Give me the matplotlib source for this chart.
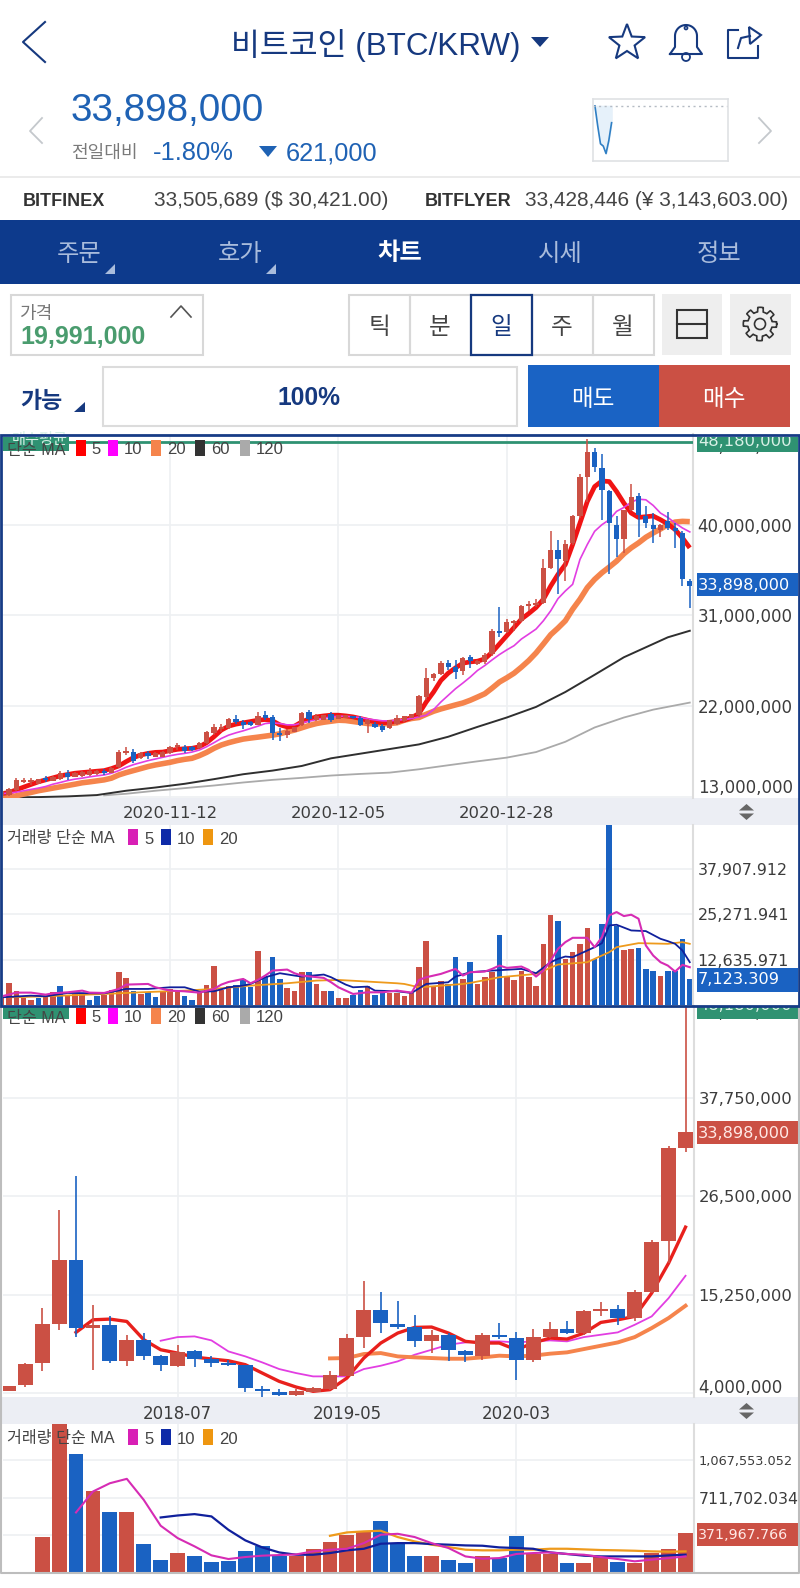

import numpy as np
import matplotlib
matplotlib.use('Agg')
import matplotlib.pyplot as plt
from matplotlib.patches import Rectangle, Polygon, Circle

plt.rcParams['font.family'] = ['Liberation Sans', 'Noto Sans CJK KR', 'DejaVu Sans']

W, H = 800, 1588
RED = '#cb5044'
BLUE = '#1a62c2'
NAVY = '#0d3a8c'
GRID = '#eef0f2'

###### daily chart, million KRW
d_open = [13.09,13.19,13.68,14.47,14.41,14.28,14.84,14.6,14.74,15.33,15.0,15.07,15.13,15.26,15.59,15.4,15.99,17.37,17.47,16.81,17.37,16.97,16.97,17.3,17.89,17.96,17.96,17.8,18.29,19.34,19.67,19.77,20.76,20.43,20.43,20.13,21.09,20.92,19.34,19.11,19.44,20.1,21.41,20.59,20.66,21.18,20.76,20.86,20.99,20.86,20.2,20.26,20.0,19.77,20.26,20.53,20.86,21.09,22.89,24.8,25.2,26.25,25.92,25.46,26.84,26.18,26.35,27.17,29.47,29.38,30.2,30.46,31.94,32.04,32.27,35.72,37.53,36.38,38.19,40.82,44.77,47.17,45.66,43.36,40.0,38.62,41.48,42.8,40.82,40.0,39.51,40.33,39.67,39.18,34.41]
d_close = [13.52,13.75,14.67,14.67,14.67,14.74,14.67,15.0,15.33,15.0,15.4,15.49,15.59,15.59,15.33,15.82,17.47,17.57,16.58,17.37,17.04,17.37,17.47,17.96,18.13,17.57,17.63,18.36,19.41,19.87,19.93,20.72,20.43,20.1,20.13,20.99,20.86,19.34,19.08,19.51,19.87,21.32,20.76,20.99,21.09,20.59,21.09,21.09,20.79,20.1,20.59,19.93,19.61,20.59,20.86,20.99,21.18,22.96,24.8,25.2,26.25,25.92,25.36,26.74,26.45,26.51,27.11,29.47,29.21,30.36,30.46,31.94,32.17,32.27,35.66,37.53,36.55,38.09,40.82,44.77,47.24,45.76,43.45,40.16,38.62,41.48,42.7,40.99,40.16,39.61,39.93,39.67,39.34,34.57,33.9]
d_high = [13.6,13.85,14.9,14.84,14.84,14.8,15.07,15.05,15.59,15.66,15.45,15.55,15.82,15.65,15.72,15.9,17.63,17.89,17.7,17.45,17.57,17.45,17.55,18.05,18.29,18.13,18.05,18.45,19.5,20.26,20.2,20.8,21.09,20.66,20.5,21.41,21.48,21.09,19.77,19.67,19.95,21.38,21.64,21.25,21.15,21.41,21.15,21.15,21.05,20.99,20.72,20.43,20.2,20.65,21.09,21.05,21.25,23.06,25.79,25.26,26.45,26.58,26.58,26.84,27.11,26.6,27.24,29.64,31.84,30.63,30.53,32.04,32.43,32.6,36.55,39.41,38.52,38.52,40.99,45.0,48.55,47.63,46.97,43.45,40.82,41.5,44.01,43.13,41.81,41.15,40.07,41.22,40.16,39.34,34.57]
d_low = [13.0,13.09,13.52,14.34,14.18,14.21,14.41,14.55,14.7,14.67,14.95,15.0,15.1,15.2,15.13,15.35,15.82,17.14,16.38,16.75,16.71,16.9,16.9,17.25,17.63,17.37,17.55,17.75,18.25,19.11,19.44,19.7,20.2,19.67,20.05,20.1,20.59,18.63,18.55,18.78,19.4,20.05,20.33,20.5,20.6,20.43,20.7,20.8,20.7,20.0,19.28,19.77,19.44,19.7,20.1,20.45,20.8,20.92,22.63,24.47,25.03,25.53,24.7,25.03,25.79,26.1,26.18,27.0,28.88,29.21,29.47,30.3,31.45,31.78,32.17,35.56,33.09,34.41,38.03,40.66,42.3,45.2,40.49,35.07,36.78,37.2,41.32,38.75,39.67,38.19,38.75,39.51,37.7,33.91,31.71]

d_ma5 = [13.3,13.42,13.68,13.95,14.21,14.47,14.67,14.87,15.07,15.2,15.33,15.4,15.46,15.53,15.59,15.79,16.05,16.48,16.88,17.14,17.3,17.4,17.43,17.57,17.7,17.76,17.8,17.96,18.36,18.95,19.61,20.0,20.2,20.33,20.46,20.59,20.66,20.53,20.13,19.93,20.0,20.43,20.72,20.92,21.02,21.09,21.09,21.02,20.92,20.76,20.59,20.43,20.33,20.39,20.46,20.59,20.86,21.25,22.4,23.39,24.54,25.26,25.79,26.25,26.38,26.45,26.68,27.34,28.16,28.98,29.8,30.63,31.18,31.78,32.6,33.91,35.07,36.05,38.03,40.16,42.3,43.78,44.34,44.28,43.29,42.14,41.15,40.72,40.79,40.86,40.49,40.07,39.51,38.68,37.7]
d_ma10 = [13.3,13.36,13.45,13.59,13.72,13.85,14.01,14.24,14.41,14.6,14.74,14.84,14.97,15.07,15.16,15.33,15.59,15.92,16.18,16.38,16.58,16.74,16.91,17.07,17.2,17.3,17.43,17.63,17.96,18.36,18.78,19.11,19.34,19.54,19.77,20.0,20.26,20.33,20.26,20.13,20.13,20.33,20.49,20.66,20.79,20.92,20.99,20.99,20.92,20.86,20.72,20.62,20.53,20.53,20.59,20.66,20.76,20.92,21.09,21.64,22.4,23.06,23.72,24.28,24.87,25.53,26.02,26.58,27.11,27.57,27.99,28.65,29.14,29.64,30.46,31.45,32.66,33.42,34.08,36.55,38.03,39.34,40.0,40.49,41.32,41.71,42.24,42.53,42.47,41.91,41.15,40.72,40.16,39.67,39.28]
d_ma20 = [12.9,12.93,13.09,13.26,13.42,13.59,13.72,13.85,13.98,14.11,14.24,14.38,14.47,14.57,14.67,14.84,15.16,15.39,15.59,15.79,15.99,16.15,16.28,16.41,16.58,16.71,16.81,17.07,17.4,17.8,18.13,18.36,18.55,18.72,18.82,18.91,19.01,19.11,19.24,19.44,19.61,19.84,20.07,20.26,20.39,20.49,20.59,20.56,20.46,20.36,20.26,20.23,20.23,20.26,20.33,20.59,20.76,20.86,21.18,21.48,21.71,21.91,22.11,22.3,22.57,22.89,23.22,23.78,24.38,24.8,25.26,25.86,26.51,27.27,28.16,29.08,29.74,30.46,31.61,32.6,33.75,34.57,35.23,35.79,36.38,37.11,37.7,38.19,38.75,39.18,39.57,40.0,40.26,40.33,40.3]
d_ma60_x = [1,5,9,13,17,21,25,29,33,37,41,45,49,53,57,61,65,69,73,77,81,85,89,91,94]
d_ma60 = [12.93,12.96,13.03,13.16,13.59,13.91,14.28,14.74,15.23,15.59,16.05,16.81,17.27,17.73,18.19,18.95,19.93,20.86,21.91,23.39,25.1,26.84,28.16,28.82,29.47]
d_ma120_x = [14,17,21,25,29,33,37,41,45,49,53,57,61,65,69,73,77,81,85,89,94]
d_ma120 = [13.13,13.29,13.59,13.85,14.11,14.41,14.67,14.87,15.1,15.26,15.39,15.72,16.12,16.51,16.88,17.43,18.45,19.87,20.86,21.64,22.34]

###### daily volume, thousands
d_vol = [2.61,6.06,3.82,1.96,1.49,1.87,2.14,3.54,5.41,2.89,3.08,3.08,1.4,2.42,2.89,4.2,9.14,7.46,4.01,3.08,3.73,2.33,3.82,4.48,4.01,2.42,1.49,3.26,5.69,11.0,4.2,5.41,5.69,7.27,5.13,15.01,7.74,13.52,7.18,4.76,3.82,9.33,9.33,5.87,4.01,3.82,1.87,1.87,2.89,4.2,5.22,2.8,3.73,3.26,3.26,
         2.61,3.26,10.54,17.72,5.22,6.81,5.87,13.33,7.27,12.12,5.87,7.74,9.14,19.58,7.74,6.99,9.6,7.74,5.41,17.06,24.99,23.31,12.87,14.92,16.88,21.54,12.87,22.66,60.0,21.91,15.39,15.67,15.95,10.07,9.42,8.02,9.6,9.6,18.46,7.12]
d_vol_side = 'rrrrrbrrbrrrbbrrrrbrbbrrrbbrrrrrbbbrbbbrrrbrrbrrbbrbbrr' + 'rrrrrrbbrbrrrbrrrrrrrbrrrrbbbbrrbbbrbbbb'
d_vma5_x = [0,2,4,6,7,9,11,12,14,16,17,20,21,23,25,27,29,30,31,33,34,35,36,37,39,40,41,44,45,46,48,50,52,54,55,56,57,58,60,62,63,64,66,67,68,69,71,72,73,74,75,76,77,78,80,81,82,83,84,85,86,87,88,89,90,91,92,93,94]
d_vma5 = [2.42,3.45,3.45,2.89,3.26,3.54,4.01,3.45,3.36,4.48,5.69,5.87,4.94,4.01,3.82,3.45,4.48,5.69,6.43,7.27,6.06,6.99,8.21,9.6,9.88,8.86,8.21,7.55,6.34,4.94,3.08,3.54,3.54,4.01,3.73,3.45,6.99,7.74,8.67,10.07,8.21,9.14,9.33,10.07,11.0,10.35,10.72,9.79,7.93,9.6,12.4,15.67,17.53,18.74,18.74,16.13,18.93,24.99,25.92,24.8,25.18,24.06,16.6,13.8,11.94,11.0,9.33,11.19,10.54]
d_vma10_x = [0,4,6,9,13,14,17,20,23,25,27,29,31,33,34,36,38,40,41,44,45,47,48,50,51,54,56,58,61,62,64,67,71,73,75,76,77,78,80,81,82,83,84,86,88,90,91,92,93,94]
d_vma10 = [2.14,2.61,2.42,3.36,3.26,3.26,4.48,4.48,4.94,4.94,3.73,3.82,4.94,5.41,5.87,7.74,8.86,8.21,7.93,8.49,7.74,5.69,4.94,5.13,4.01,3.82,3.36,5.87,6.34,7.93,9.14,9.6,10.07,8.86,11.94,12.87,13.52,13.33,15.2,16.13,17.25,22.19,22.38,20.79,20.61,18.46,17.81,17.06,15.2,11.94]
d_vma20_x = [1,6,14,19,25,29,34,39,43,46,50,54,55,56,57,59,63,64,68,73,76,80,83,84,87,91,93,94]
d_vma20 = [2.14,2.42,3.08,3.54,4.01,4.48,5.41,6.06,6.81,6.99,6.53,6.06,5.87,5.41,4.94,5.22,5.87,6.15,7.74,8.67,11.28,11.94,14.73,16.13,17.25,17.06,17.53,17.06]

###### monthly chart, million KRW
m_open = [4.19,4.87,7.43,11.93,19.25,11.43,11.81,7.69,10.1,8.19,7.12,8.76,7.89,7.43,7.16,4.49,4.11,3.73,4.11,4.49,5.98,10.36,13.53,11.93,11.55,9.94,10.59,8.76,8.27,10.67,10.29,7.81,10.44,11.36,10.86,13.38,13.61,12.58,15.55,21.35,32.1]
m_close = [4.83,7.35,11.89,19.25,11.43,11.81,7.69,10.1,8.27,7.16,8.69,7.89,7.43,7.2,4.57,4.19,3.77,4.19,4.57,6.02,10.29,13.53,12.0,11.55,9.98,10.59,8.88,8.3,10.67,10.36,7.81,10.36,11.36,10.9,13.34,13.64,12.58,15.51,21.27,32.03,33.86]
m_high = [4.83,7.43,13.72,24.97,28.9,14.1,12.84,10.67,10.86,8.38,9.53,8.88,8.27,7.81,7.24,4.76,4.45,4.45,4.64,6.47,10.75,16.77,15.51,14.48,12.96,11.24,10.86,8.95,10.86,12.0,10.94,11.36,12.12,12.19,13.53,14.37,14.06,15.74,21.46,32.33,48.24]
m_low = [4.19,4.68,6.47,11.17,10.4,6.59,7.43,7.05,7.81,6.55,6.97,6.93,6.97,7.05,4.11,3.54,3.61,3.61,4.07,4.38,5.9,9.14,10.86,11.32,9.26,8.57,7.62,7.5,7.81,10.17,5.44,7.5,10.29,10.75,10.67,12.84,11.81,12.19,15.44,18.87,31.65]
m_ma5 = [10.94,12.38,12.46,12.19,10.1,8.95,8.57,8.11,7.89,7.69,7.24,6.28,5.33,4.68,4.19,4.38,5.71,8.0,9.72,10.86,11.51,11.55,10.86,9.91,9.72,9.72,8.95,9.72,10.29,10.17,10.86,12.08,12.38,12.77,15.44,18.87,22.99]
m_ma10 = [9.98,10.4,10.48,10.02,8.76,8.19,7.5,6.74,6.28,5.9,5.9,5.9,6.74,7.12,7.62,8.38,8.95,9.53,9.79,9.91,9.91,9.79,9.91,10.02,9.91,10.4,10.67,10.94,11.81,12.77,14.86,17.42]
m_ma20 = [7.96,8.0,8.46,8.57,8.19,8.08,8.0,7.92,7.92,8.08,8.27,8.19,8.27,8.5,8.65,9.03,9.41,9.79,10.4,11.43,12.58,13.99]

###### monthly volume, thousands
m_vol = [330,1500,1128,775,569,569,270,118,181,149,98,102,197,251,149,149,219,283,356,378,483,276,149,156,118,86,149,133,340,175,175,83,86,149,95,86,181,222,371.97]
m_vma5 = [569,769,848,890,689,442,324,245,159,124,143,156,162,168,197,213,222,276,356,365,334,276,229,149,127,133,172,181,187,172,165,143,124,102,118,133,149]
m_vma10 = [521,540,553,531,403,302,235,187,165,165,181,207,222,270,276,276,267,261,254,251,235,229,222,187,172,156,149,149,149,149,159,165]
m_vma20 = [346,378,388,394,334,292,261,238,213,207,207,213,213,222,222,216,210,207,203,197,194,197]

d_dates = ['2020-11-12', '2020-12-05', '2020-12-28']
m_dates = ['2018-07', '2019-05', '2020-03']
spark = [48.18, 42.0, 36.5, 35.8, 33.5, 37.5, 43.0]


def px_axes(x0, y0, x1, y1, z=1):
    return fig.add_axes([x0 / W, 1 - y1 / H, (x1 - x0) / W, (y1 - y0) / H], zorder=z)


def style_chart(ax, xlim, ylim, xt, yt, ylabels, sizes, xlabels=None, xsize=12):
    ax.set_xlim(*xlim)
    ax.set_ylim(*ylim)
    for s in ['top', 'left', 'bottom']:
        ax.spines[s].set_visible(False)
    ax.spines['right'].set_color('#dddddd')
    ax.spines['right'].set_linewidth(1.5)
    ax.yaxis.tick_right()
    ax.set_xticks(xt)
    ax.set_yticks(yt)
    ax.set_yticklabels(ylabels, family='DejaVu Sans', color='#3c3c3c')
    for lab, s in zip(ax.get_yticklabels(), sizes):
        lab.set_fontsize(s)
    if xlabels:
        ax.set_xticklabels(xlabels, family='DejaVu Sans', color='#3c3c3c', fontsize=xsize)
    else:
        ax.set_xticklabels([])
    ax.tick_params(axis='y', length=0, pad=3.2)
    ax.tick_params(axis='x', length=0, pad=6)
    ax.grid(True, color=GRID, lw=1.2)
    ax.set_axisbelow(True)


def candles(ax, o, c, h, l, width, lw, z=4):
    o, c, h, l = map(np.array, (o, c, h, l))
    x = np.arange(len(o))
    cols = [RED if a >= b else BLUE for a, b in zip(c, o)]
    ax.vlines(x, l, h, colors=cols, lw=lw, zorder=z)
    ax.bar(x, c - o, bottom=o, width=width, color=cols, lw=0, zorder=z)


def legend(y, items, fs=12):
    # items: (swatch x, colour, text x, text)
    for sx, col, tx, t in items:
        fg.add_patch(Rectangle((sx, y - 8), 9.5, 16, color=col, lw=0, zorder=6))
        fg.text(tx, y + 2, t, fontsize=fs, color='#444444', va='center', ha='left', zorder=6)


fig = plt.figure(figsize=(W / 100, H / 100), dpi=100)
bg = fig.add_axes([0, 0, 1, 1], zorder=0)
bg.set_xlim(0, W)
bg.set_ylim(H, 0)
bg.axis('off')
fg = fig.add_axes([0, 0, 1, 1], zorder=5)
fg.set_xlim(0, W)
fg.set_ylim(H, 0)
fg.axis('off')
fg.patch.set_alpha(0)

###### header
T = '#16397f'
bg.plot([45, 23, 45], [22, 42, 62], color=T, lw=1.5)
bg.text(231, 46, '비트코인 (BTC/KRW)', fontsize=22.6, color=T, va='center', ha='left')
bg.add_patch(Polygon([(531, 37), (549, 37), (540, 47)], color=T, lw=0))
ang = np.pi / 2 + np.arange(10) * np.pi / 5
rad = np.where(np.arange(10) % 2 == 0, 19, 8)
bg.add_patch(Polygon(np.c_[627 + rad * np.cos(ang), 43 - rad * np.sin(ang)], fill=False, ec=T, lw=1.5))
# bell
t = np.linspace(np.pi, 0, 30)
bx = np.r_[670, 675, 675 + 11 * (1 + np.cos(t)), 697, 702, 670]
by = np.r_[54, 47, 36 - 11 * np.sin(t), 47, 54, 54]
bg.plot(bx, by, color=T, lw=1.5)
bg.add_patch(Circle((686, 57), 4, fill=False, ec=T, lw=1.3))
bg.add_patch(Circle((686, 28), 1.5, fill=False, ec=T, lw=1.2))
# share
bg.plot([738, 728, 728, 758, 758], [30, 30, 58, 58, 46], color=T, lw=1.5)
bg.plot([738, 741, 750], [48, 38, 36], color=T, lw=1.5)
bg.add_patch(Polygon([(749, 27), (761, 35), (750, 44)], fill=False, ec=T, lw=1.5))

bg.plot([42, 30, 42], [118, 131, 143], color='#c4c8cc', lw=1.3)
bg.plot([759, 771, 759], [118, 131, 143], color='#c4c8cc', lw=1.3)
bg.text(71, 111, '33,898,000', fontsize=27.8, color='#1f62b4', va='center', ha='left')
bg.text(71, 153, '전일대비', fontsize=13, color='#7a7a7a', va='center', ha='left')
bg.text(153, 153, '-1.80%', fontsize=18.4, color='#1f62b4', va='center', ha='left')
bg.add_patch(Polygon([(259, 146), (277, 146), (268, 157)], color='#1f62b4', lw=0))
bg.text(286, 153, '621,000', fontsize=18.3, color='#1f62b4', va='center', ha='left')

sp = px_axes(593, 99, 728, 161)
sp.plot(np.arange(len(spark)), spark, color='#2f7fc4', lw=1.2)
sp.fill_between(np.arange(len(spark)), spark, 48.18, color='#e6f1fa')
sp.axhline(48.18, color='#b5bcc4', lw=1, ls=(0, (1.5, 2.5)))
sp.set_xlim(-0.7, 48)
sp.set_ylim(31.2, 50.3)
sp.set_xticks([])
sp.set_yticks([])
for s in sp.spines.values():
    s.set_color('#dfe1e4')
    s.set_linewidth(1.2)

bg.plot([0, W], [177, 177], color='#e8e8e8', lw=1.2)
bg.text(23, 201, 'BITFINEX', fontsize=13, fontweight='bold', color='#333333', va='center', ha='left')
bg.text(154, 201, '33,505,689 ($ 30,421.00)', fontsize=15, color='#444444', va='center', ha='left')
bg.text(425, 201, 'BITFLYER', fontsize=13, fontweight='bold', color='#333333', va='center', ha='left')
bg.text(525, 201, '33,428,446 (¥ 3,143,603.00)', fontsize=15, color='#444444', va='center', ha='left')

bg.add_patch(Rectangle((0, 220), W, 64, color=NAVY, lw=0))
for x, s in zip([79, 240, 400, 560, 719], ['주문', '호가', '차트', '시세', '정보']):
    if s == '차트':
        bg.text(x, 254, s, fontsize=17.5, color='white', fontweight='bold', ha='center', va='center')
    else:
        bg.text(x, 255, s, fontsize=17.5, color='#a9bcdc', ha='center', va='center')
for x in [115, 276]:
    bg.add_patch(Polygon([(x, 264), (x, 274), (x - 10, 274)], color='#a9bcdc', lw=0))

bg.add_patch(Rectangle((11, 294.5), 192, 60, fill=False, ec='#d8d8d8', lw=1.5))
bg.text(19, 315, '가격', fontsize=13, color='#777777', va='center', ha='left')
bg.plot([171, 181, 191], [317, 306, 317], color='#555555', lw=1.2)
bg.text(20, 337, '19,991,000', fontsize=18, fontweight='bold', color='#4a9c6e', va='center', ha='left')

for i, s in enumerate(['틱', '분', '일', '주', '월']):
    x = 348.5 + 61 * i
    bg.add_patch(Rectangle((x, 294.5), 61, 60, fill=False, ec='#d8d8d8', lw=1.5))
    bg.text(x + 30.5, 328, s, fontsize=17, ha='center', va='center', color=T if s == '일' else '#444444')
bg.add_patch(Rectangle((470.5, 294.5), 61, 60, fill=False, ec=T, lw=1.6, zorder=3))

bg.add_patch(Rectangle((662, 294), 60, 61, color='#eeeeee', lw=0))
bg.add_patch(Rectangle((730, 294), 61, 61, color='#eeeeee', lw=0))
bg.add_patch(Rectangle((676.5, 310), 30, 28, fill=False, ec='#333333', lw=1.5))
bg.plot([676.5, 706.5], [324, 324], color='#333333', lw=1.5)
ga = np.linspace(0, 2 * np.pi, 97)
gr = 14.5 + 2.2 * np.sign(np.cos(8 * ga))
bg.plot(760 + gr * np.cos(ga), 324 + gr * np.sin(ga), color='#333333', lw=1.2)
bg.add_patch(Circle((760, 324), 5.5, fill=False, ec='#333333', lw=1.2))

bg.text(20, 402, '가능', fontsize=16.5, fontweight='bold', color=T, va='center', ha='left')
bg.add_patch(Polygon([(85, 402), (85, 412), (74, 412)], color=T, lw=0))
bg.add_patch(Rectangle((102.5, 366.5), 414, 59, fill=False, ec='#dcdcdc', lw=1.5))
bg.text(309, 398, '100%', fontsize=17.7, fontweight='bold', color=T, va='center', ha='center')
bg.add_patch(Rectangle((528, 365), 131, 62, color='#1a63c4', lw=0))
bg.add_patch(Rectangle((659, 365), 131, 62, color=RED, lw=0))
bg.text(593, 400, '매도', fontsize=17, color='white', va='center', ha='center')
bg.text(724, 400, '매수', fontsize=17, color='white', va='center', ha='center')

###### daily panel
dx = (0.18, 94.44)
ax = px_axes(3, 434, 693, 798)
style_chart(ax, dx, (12.87, 48.8), [23, 46, 69], [13, 22, 31, 40, 49],
            ['', '22,000,000', '31,000,000', '40,000,000', ''], [12] * 5, d_dates, 11.8)
n = np.arange(len(d_open))
ax.plot(d_ma120_x, d_ma120, color='#aaaaaa', lw=1.3, zorder=2)
ax.plot(d_ma60_x, d_ma60, color='#2f2f2f', lw=1.4, zorder=2)
ax.plot(n, d_ma20, color='#f5844c', lw=4, zorder=2, solid_capstyle='butt')
ax.plot(n, d_ma5, color='#f01414', lw=3.4, zorder=2.2, solid_capstyle='butt')
ax.plot(n, d_ma10, color='#e23ee2', lw=1.2, zorder=2.4)
candles(ax, d_open, d_close, d_high, d_low, 0.72, 1.1)
ax.axhline(48.18, color='#2f9272', lw=2, zorder=3)

###### daily volume
vx = px_axes(3, 825, 693, 1005)
style_chart(vx, dx, (0, 50.2), [23, 46, 69], [12.636, 25.272, 37.908],
            ['12,635.971', '25,271.941', '37,907.912'], [11.5, 11.5, 11.3])
vx.bar(n, d_vol, width=0.76, color=[RED if s == 'r' else BLUE for s in d_vol_side], lw=0, zorder=2)
vx.plot(d_vma20_x, d_vma20, color='#ee9a1c', lw=1.3, zorder=3)
vx.plot(d_vma10_x, d_vma10, color='#10209c', lw=1.3, zorder=3.2)
vx.plot(d_vma5_x, d_vma5, color='#d62cb4', lw=1.5, zorder=3.4)

###### monthly panel
mx = (-0.313, 40.5)
a2 = px_axes(3, 1006, 694, 1397)
style_chart(a2, mx, (3.54, 48.31), [10, 20, 30], [4, 15.25, 26.5, 37.75],
            ['', '15,250,000', '26,500,000', '37,750,000'], [11.8] * 4, m_dates, 12)
a2.plot(np.arange(9, 41), m_ma10, color='#e23ee2', lw=1.3, zorder=2)
a2.plot(np.arange(19, 41), m_ma20, color='#f5844c', lw=2.8, zorder=2.1)
a2.plot(np.arange(4, 41), m_ma5, color='#e8201c', lw=2.4, zorder=2.2)
candles(a2, m_open, m_close, m_high, m_low, 0.88, 1.2)

###### monthly volume
v2 = px_axes(3, 1424, 694, 1572)
style_chart(v2, mx, (0, 1414), [10, 20, 30], [355.85, 711.7, 1067.55],
            ['', '711,702.034', '1,067,553.052'], [11, 11.3, 9.3])
side = np.array(m_close)[2:] >= np.array(m_open)[2:]
v2.bar(np.arange(2, 41), m_vol, width=0.88, color=[RED if s else BLUE for s in side], lw=0, zorder=2)
v2.plot(np.arange(19, 41), m_vma20, color='#ee9a1c', lw=1.6, zorder=3)
v2.plot(np.arange(9, 41), m_vma10, color='#10209c', lw=1.6, zorder=3.2)
v2.plot(np.arange(4, 41), m_vma5, color='#d62cb4', lw=1.5, zorder=3.4)

###### date bars
for y0, y1, ic in [(798, 825, 812), (1397, 1424, 1411)]:
    bg.add_patch(Rectangle((0, y0), W, y1 - y0, color='#eceef4', lw=0))
    bg.add_patch(Polygon([(746.5, ic - 8), (754, ic - 1.5), (739, ic - 1.5)], color='#666666', lw=0))
    bg.add_patch(Polygon([(746.5, ic + 8), (754, ic + 1.5), (739, ic + 1.5)], color='#666666', lw=0))

###### labels and tags on top
LBL = dict(family='DejaVu Sans', va='center', ha='left')
fg.text(698, 448, '49,000,000', fontsize=11.8, color='#3c3c3c', zorder=1, **LBL)
fg.add_patch(Rectangle((697, 437), 101, 15, color='#2f9272', lw=0, zorder=2))
fg.text(698, 442, '48,180,000', fontsize=11.8, color='#d8f0e6', zorder=3, **LBL)
fg.text(698, 788, '13,000,000', fontsize=12, color='#3c3c3c', **LBL)
fg.add_patch(Rectangle((697, 573), 101, 23, color=BLUE, lw=0, zorder=2))
fg.text(698, 585, '33,898,000', fontsize=11.6, color='white', zorder=3, **LBL)
fg.add_patch(Rectangle((697, 968), 101, 24, color=BLUE, lw=0, zorder=2))
fg.text(698, 980, '7,123.309', fontsize=11.6, color='white', zorder=3, **LBL)

fg.text(698, 1014, '49,000,000', fontsize=11.8, color='#3c3c3c', zorder=1, **LBL)
fg.add_patch(Rectangle((697, 1006), 101, 13, color='#2f9272', lw=0, zorder=2))
fg.text(698, 1006, '48,180,000', fontsize=11.8, color='#d8f0e6', zorder=3, **LBL)
fg.add_patch(Rectangle((695, 992), 103, 13.5, color='white', lw=0, zorder=4))
fg.text(698, 1388, '4,000,000', fontsize=12, color='#3c3c3c', **LBL)
fg.add_patch(Rectangle((697, 1121), 101, 23, color=RED, lw=0, zorder=2))
fg.text(698, 1133, '33,898,000', fontsize=11.6, color='#ffe9e6', zorder=3, **LBL)
fg.add_patch(Rectangle((697, 1523), 101, 23, color=RED, lw=0, zorder=2))
fg.text(698, 1535, '371,967.766', fontsize=10.3, color='#ffe9e6', zorder=3, **LBL)

###### legends
fg.add_patch(Rectangle((3, 437), 66, 14, color='#2f9272', lw=0, zorder=5))
fg.text(12, 440, '매수평균', fontsize=11, color='#d8f0e6', va='center', ha='left', zorder=5.2)
fg.add_patch(Rectangle((3, 1007), 66, 12, color='#2f9272', lw=0, zorder=5))
ma_items = [(76, '#ff0000', 91, '5'), (108, '#ff00ff', 124, '10'), (151, '#f5844c', 167, '20'),
            (195, '#333333', 211, '60'), (240, '#aaaaaa', 256, '120')]
vol_items = [(128, '#d81fb5', 144, '5'), (161, '#0e2aa8', 177, '10'), (203, '#ee9610', 219, '20')]
for y in [448, 1016]:
    fg.text(7, y + 2, '단순 MA', fontsize=11.6, color='#444444', va='center', ha='left', zorder=6)
    legend(y, ma_items)
for y in [837, 1437]:
    fg.text(7, y + 2, '거래량 단순 MA', fontsize=11.6, color='#444444', va='center', ha='left', zorder=6)
    legend(y, vol_items)

###### frames
fg.plot([1, 1, 799, 799], [1006, 1573, 1573, 1006], color='#bdbdbd', lw=1.5, zorder=7)
fg.add_patch(Rectangle((1.2, 434.5), 797.6, 571.5, fill=False, ec='#173c86', lw=2, zorder=8))

plt.savefig('out.png', dpi=100)
